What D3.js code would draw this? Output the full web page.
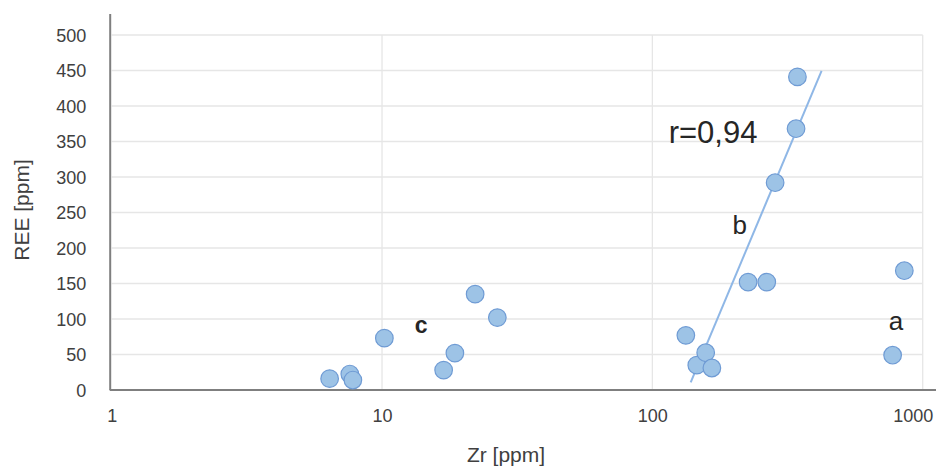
<!DOCTYPE html>
<html>
<head>
<meta charset="utf-8">
<script src="https://cdn.jsdelivr.net/npm/d3@7"></script>
<style>
  html, body { margin: 0; padding: 0; background: #fff; }
  svg { display: block; font-family: "Liberation Sans", Arial, sans-serif; }
</style>
</head>
<body>
<svg id="chart" width="936" height="467"></svg>
<script>
// Data (Zr vs REE, ppm)
const zr  = [6.4, 7.6, 7.8, 10.2, 16.9, 18.6, 22.1, 26.7, 133, 146, 157.5, 166, 226, 265, 284.5, 340, 344, 774, 855];
const ree = [16, 22.5, 14, 73, 28, 52, 135, 102, 77, 35, 52.5, 31, 152, 152, 292, 368, 441, 49, 168];
const xTicks = [1, 10, 100, 1000];
const yTicks = [0, 50, 100, 150, 200, 250, 300, 350, 400, 450, 500];
const trendX = [138.6, 422.6];
const trendY = [10.8, 449.6];
const labelText = ["a", "b", "c", "r=0,94"];
const labelX = [796, 210.6, 13.95, 114.9];
const labelY = [84.5, 219.2, 79.8, 347.8];

const svg = d3.select("#chart");
const x = d3.scaleLog().domain([1, 1000]).range([111.7, 922.7]);
const y = d3.scaleLinear().domain([0, 500]).range([390, 35]);

// gridlines
svg.append("g").selectAll("line").data(yTicks.filter(d => d > 0)).join("line")
  .attr("x1", x(1)).attr("x2", x(1000))
  .attr("y1", d => y(d)).attr("y2", d => y(d))
  .attr("stroke", "#e6e6e6").attr("stroke-width", 1.3);
svg.append("g").selectAll("line").data(xTicks.filter(d => d > 1)).join("line")
  .attr("x1", d => x(d)).attr("x2", d => x(d))
  .attr("y1", y(500)).attr("y2", y(0))
  .attr("stroke", "#e6e6e6").attr("stroke-width", 1.3);

// y axis
const yAxis = svg.append("g").attr("transform", `translate(${x(1) - 1.5},0)`)
  .call(d3.axisLeft(y).tickValues(yTicks).tickSize(0).tickPadding(24));
yAxis.select(".domain").attr("d", `M0,14V${y(0)}`).attr("stroke", "#7f7f7f").attr("stroke-width", 2);
yAxis.selectAll("text").attr("font-size", 18).attr("fill", "#404040")
  .attr("font-family", "Liberation Sans, Arial, sans-serif").attr("dy", "0.36em");

// x axis
const xAxis = svg.append("g").attr("transform", `translate(0,${y(0)})`)
  .call(d3.axisBottom(x).tickValues(xTicks).tickFormat(d3.format("d")).tickSize(0).tickPadding(19));
xAxis.select(".domain").attr("d", `M${x(1) - 2},0H936`).attr("stroke", "#7f7f7f").attr("stroke-width", 2);
xAxis.selectAll("text").attr("font-size", 18).attr("fill", "#404040")
  .attr("font-family", "Liberation Sans, Arial, sans-serif")
  .attr("dx", d => d === 1000 ? -10 : 0);

// axis titles
svg.append("text").attr("x", 506).attr("y", 462).attr("text-anchor", "middle")
  .attr("font-size", 21).attr("fill", "#404040").text("Zr [ppm]");
svg.append("text").attr("transform", "translate(29,210) rotate(-90)").attr("text-anchor", "middle")
  .attr("font-size", 21).attr("fill", "#404040").text("REE [ppm]");

// trend line
svg.append("line")
  .attr("x1", x(trendX[0])).attr("y1", y(trendY[0]))
  .attr("x2", x(trendX[1])).attr("y2", y(trendY[1]))
  .attr("stroke", "#8fb7e6").attr("stroke-width", 2);

// points
svg.append("g").selectAll("circle").data(zr.map((d, i) => [d, ree[i]])).join("circle")
  .attr("cx", d => x(d[0])).attr("cy", d => y(d[1])).attr("r", 8.8)
  .attr("fill", "#9dc3e6").attr("stroke", "#6f9bd4").attr("stroke-width", 1.2);

// labels
svg.append("g").selectAll("text").data(labelText).join("text")
  .attr("x", (d, i) => x(labelX[i])).attr("y", (d, i) => y(labelY[i]))
  .attr("text-anchor", (d, i) => i === 3 ? "start" : "middle")
  .attr("font-size", (d, i) => i === 3 ? 31 : (i === 2 ? 23 : 26))
  .attr("font-weight", (d, i) => i === 2 ? "bold" : "normal")
  .attr("fill", "#262626")
  .text(d => d);
</script>
</body>
</html>
